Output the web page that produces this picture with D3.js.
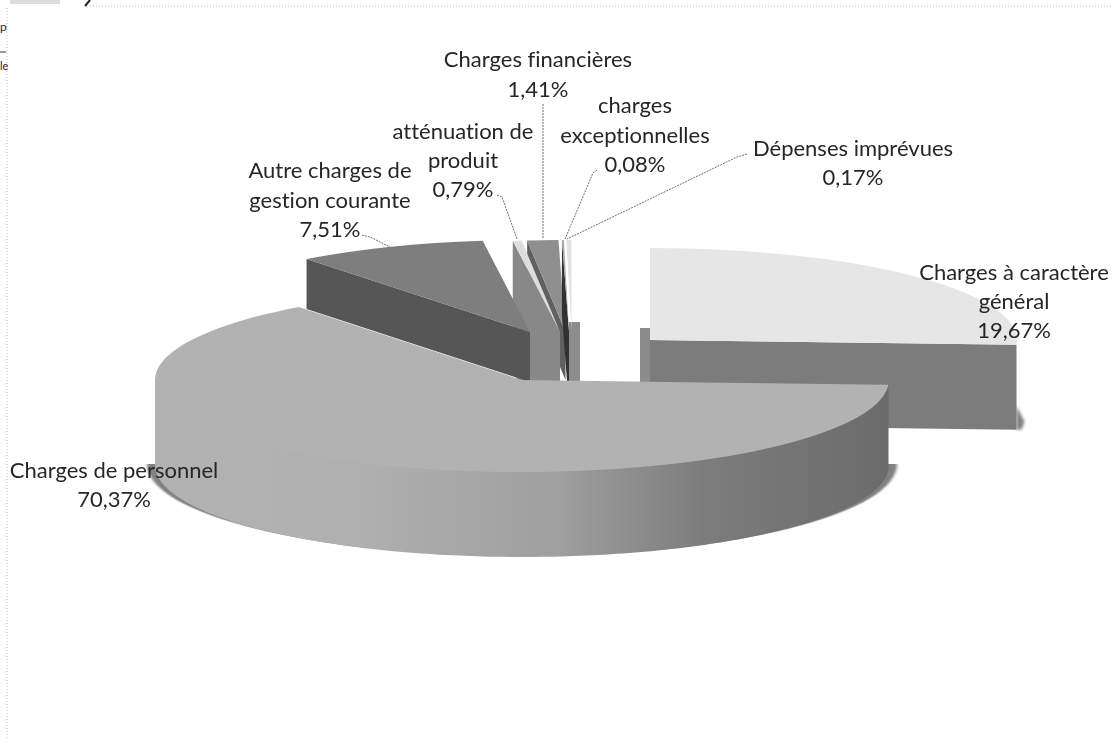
<!DOCTYPE html>
<html>
<head>
<style>
html, body {
    width: 100%;
    height: 100%;
    margin: 0;
    padding: 0;
    overflow: hidden;
    background: #fff;
}
text {
    font-family: Lato, "Open Sans", sans-serif;
    font-size: 22px;
    font-variant-ligatures: none;
    fill: #262626;
    text-anchor: middle;
}
</style>
</head>
<body>
<script src="https://d3js.org/d3.v7.min.js"></script>
<script>
const categories = ["Charges à caractère général", "Charges de personnel", "Autre charges de gestion courante",
    "atténuation de produit", "Charges financières", "charges exceptionnelles", "Dépenses imprévues"];
const values = [19.67, 70.37, 7.51, 0.79, 1.41, 0.08, 0.17];

// how each category name is broken on lines
const labelLines = [["Charges à caractère", "général"], ["Charges de personnel"], ["Autre charges de", "gestion courante"],
    ["atténuation de", "produit"], ["Charges financières"], ["charges", "exceptionnelles"], ["Dépenses imprévues"]];

// the 3D view squeezes the pie: pie angle -> angle drawn on the ellipse (degrees, clockwise from east)
const viewAngles = [-90, 3, 232.5, 262.6, 264, 268.9, 269.2, 270];
const centersX = [650, 522, 530, 560, 565.5, 569, 571.5];
const centersY = [340, 380, 332, 332, 332, 332, 332];
const depths = [85, 85, 50, 130, 48, 75, 0];
const topColors = ["#e6e6e6", "#b2b2b2", "#7e7e7e", "#dddddd", "#8f8f8f", "#a8a8a8", "#e2e2e2"];
const wallColors = ["#7b7b7b", "#8c8c8c", "#565656", "#888888", "#616161", "#303030", "#e2e2e2"];
const cutEdges = ["end", null, "start", "start", "start", "start", null];
const drawOrder = [0, 4, 3, 5, 6, 2, 1];
const labelX = [1014, 114, 330, 463, 538, 635, 853];
const labelY = [280, 478, 178, 139, 67, 113, 156];
const lineGap = [29, 29, 29.5, 29, 30, 29.5, 29];
const leaders = [
    [[543, 104], [543, 239]],
    [[497, 195], [502, 197], [517, 239]],
    [[362, 235], [370, 237], [390, 247]],
    [[597, 170], [593, 173], [565, 239]],
    [[747, 154], [737, 157], [567, 239]]
];
const backFaces = [[640, 652, 328, 427], [569, 580, 322, 381]];
const rx = 367, ry = 92;
const width = 1113, height = 739;

const svg = d3.select("body").append("svg")
    .attr("width", width)
    .attr("height", height);

const defs = svg.append("defs");
defs.append("filter").attr("id", "scan")
    .append("feGaussianBlur").attr("stdDeviation", 0.5);
defs.append("filter").attr("id", "soft")
    .append("feGaussianBlur").attr("stdDeviation", 1.5);

const wallGrad = defs.append("linearGradient").attr("id", "wall")
    .attr("gradientUnits", "userSpaceOnUse")
    .attr("x1", centersX[1] - rx).attr("x2", centersX[1] + rx).attr("y1", 0).attr("y2", 0);
[[0, "#b2b2b2"], [0.27, "#b0b0b0"], [0.55, "#9f9f9f"], [0.75, "#7c7c7c"], [1, "#6b6b6b"]].forEach(s => {
    wallGrad.append("stop").attr("offset", s[0]).attr("stop-color", s[1]);
});

const pie = d3.pie().sort(null).value(d => d)(values);
const pieEdges = [pie[0].startAngle].concat(pie.map(d => d.endAngle));
const viewAngle = d3.scaleLinear().domain(pieEdges).range(viewAngles);
const rad = deg => deg * Math.PI / 180;

const rim = (i, deg, dy = 0) => [
    centersX[i] + rx * Math.cos(rad(deg)),
    centersY[i] + ry * Math.sin(rad(deg)) + dy
];
const closed = d3.line().curve(d3.curveLinearClosed);

// page edge left over from the scan
const frame = svg.append("g").attr("fill", "none").attr("stroke", "#bdbdbd").attr("stroke-dasharray", "1 2");
frame.append("path").attr("d", d3.line()([[90, 6], [width, 6]]));
frame.append("path").attr("d", d3.line()([[7, 8], [7, height]]));
svg.append("path").attr("d", d3.line()([[85, 6], [90, 0]])).attr("stroke", "#222").attr("stroke-width", 2);
svg.append("path").attr("d", d3.line()([[0, 52], [6, 52]])).attr("stroke", "#333").attr("stroke-width", 1);
svg.append("path").attr("d", d3.line()([[10, 2], [60, 2]])).attr("stroke", "#dcdcdc").attr("stroke-width", 4);
svg.append("text").attr("x", 0).attr("y", 31).style("font-size", "12px").style("text-anchor", "start").text("p");
svg.append("text").attr("x", 0).attr("y", 70).style("font-size", "11px").style("text-anchor", "start").text("le");

const chart = svg.append("g").attr("filter", "url(#scan)");

// soft shadow under the big slice
chart.append("path")
    .attr("d", d3.arc().innerRadius(0).outerRadius(rx + 8).startAngle(rad(90)).endAngle(rad(270))())
    .attr("transform", `translate(${centersX[1]},${centersY[1] + depths[1] - 1}) scale(1,${ry / (rx + 8)})`)
    .attr("fill", "#808080")
    .attr("filter", "url(#soft)");

// cut faces behind the thin slices
chart.append("g").selectAll("path")
    .data(backFaces)
    .join("path")
    .attr("d", f => closed([[f[0], f[2]], [f[1], f[2]], [f[1], f[3]], [f[0], f[3]]]))
    .attr("fill", "#8c8c8c");

drawOrder.forEach(i => {
    const a0 = viewAngle(pie[i].startAngle), a1 = viewAngle(pie[i].endAngle);
    const g = chart.append("g");

    if (cutEdges[i]) {
        const a = cutEdges[i] === "start" ? a0 : a1;
        if (i === 0) {
            // small tail of shadow at the right tip
            const e = rim(i, a, depths[i]);
            g.append("path")
                .attr("d", closed([[e[0], e[1] - 24], [e[0] + 8, e[1] - 8], [e[0] + 5, e[1]], [e[0], e[1]]]))
                .attr("fill", "#808080")
                .attr("filter", "url(#soft)");
        }
        g.append("path")
            .attr("d", closed([[centersX[i], centersY[i]], rim(i, a), rim(i, a, depths[i]), [centersX[i], centersY[i] + depths[i]]]))
            .attr("fill", wallColors[i]);
    }

    if (i === 1) {
        // outer wall of the big slice, front half only, tucked under the top face
        const front = d3.range(a0, 180.5, 1).map(d => Math.min(d, 180));
        const area = d3.area().x(d => rim(i, d)[0]).y0(d => rim(i, d, -3)[1]).y1(d => rim(i, d, depths[i])[1]);
        g.append("path").attr("d", area(front)).attr("fill", "url(#wall)");
    }

    g.append("path")
        .attr("d", d3.arc().innerRadius(0).outerRadius(rx).startAngle(rad(a0 + 90)).endAngle(rad(a1 + 90))())
        .attr("transform", `translate(${centersX[i]},${centersY[i]}) scale(1,${ry / rx})`)
        .attr("fill", topColors[i]);
});

// leader lines
svg.append("g").selectAll("path")
    .data(leaders)
    .join("path")
    .attr("d", d3.line())
    .attr("fill", "none")
    .attr("stroke", "#6f6f6f")
    .attr("stroke-width", 1)
    .attr("stroke-dasharray", "2 1");

// labels: name lines then the percentage
const percent = v => v.toFixed(2).replace(".", ",") + "%";
categories.forEach((c, i) => {
    labelLines[i].concat(percent(values[i])).forEach((t, k) => {
        svg.append("text")
            .attr("x", labelX[i])
            .attr("y", labelY[i] + k * lineGap[i])
            .text(t);
    });
});
</script>
</body>
</html>
